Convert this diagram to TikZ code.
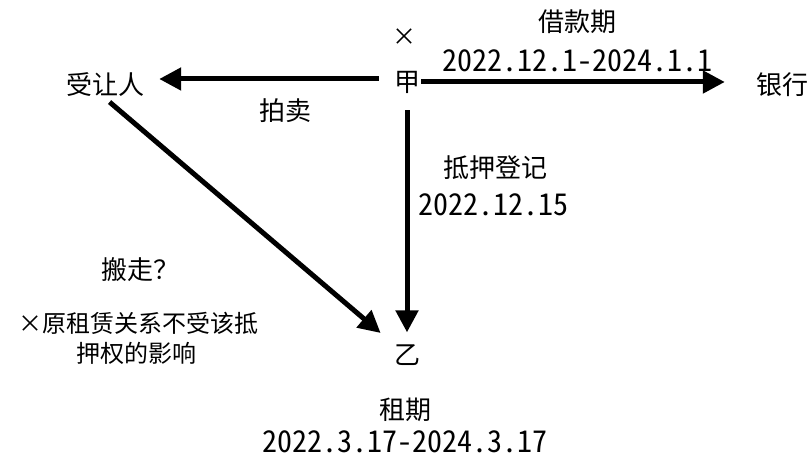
\documentclass[tikz,border=0pt]{standalone}
\usepackage{fontspec}
\setmainfont{Noto Sans CJK SC}
\newfontfamily\datefont[RawFeature=+hwid]{Noto Sans CJK SC}
\usetikzlibrary{arrows.meta}

\begin{document}
\begin{tikzpicture}[x=1pt,y=1pt,
    lbl/.style={inner sep=1pt, anchor=center, font=\fontsize{26}{28}\selectfont},
    note/.style={inner sep=1pt, anchor=center, font=\fontsize{24}{26}\selectfont},
    date/.style={inner sep=1pt, anchor=center, font=\datefont\fontsize{30}{32}\selectfont},
    arr/.style={line width=5pt, -{Triangle[length=22pt,width=22pt]}}]

      \useasboundingbox (0,0) rectangle (810,462);

      % people and bank
      \node[lbl] (jia) at (407,380) {甲};
      \node[note] (jiax) at (404,425) {×};
      \node[lbl] (bank) at (782,377) {银行};
      \node[lbl] (buyer) at (105,377) {受让人};
      \node[lbl] (yi) at (407,107) {乙};

      % labels
      \node[lbl] (loan) at (577,440) {借款期};
      \node[date] (loandate) at (577,401) {2022.12.1-2024.1.1};
      \node[lbl] (auction) at (285,351) {拍卖};
      \node[lbl] (mortgage) at (495,294) {抵押登记};
      \node[date] (mortdate) at (493,257) {2022.12.15};
      \node[lbl] (move) at (140,192) {搬走？};
      \node[note] (note1) at (138,139) {×原租赁关系不受该抵};
      \node[note] (note2) at (136,109) {押权的影响};
      \node[lbl] (lease) at (405,52) {租期};
      \node[date] (leasedate) at (405,20) {2022.3.17-2024.3.17};

      \draw[arr, shorten >=30pt] (jia.east) -- (bank.west |- jia.east);
      \draw[arr, shorten >=14pt] ([xshift=-14pt,yshift=3pt]jia.west) -- (buyer.east |- 0,383);
      \draw[arr, shorten <=16pt, shorten >=11pt] (jia.south) -- (yi.north);
      \draw[arr, shorten <=6pt, shorten >=16pt] (buyer.south) -- (yi.north west);

    \end{tikzpicture}
\end{document}
